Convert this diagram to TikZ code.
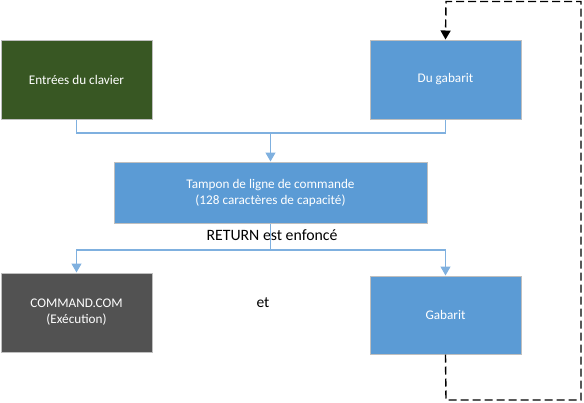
\documentclass[tikz,border=0pt]{standalone}
\usepackage{fontspec}
\setmainfont{Carlito}
\usetikzlibrary{arrows.meta}
\definecolor{dgreen}{HTML}{385723}
\definecolor{mblue}{HTML}{5B9BD5}
\definecolor{dgrey}{HTML}{525252}
\definecolor{bord}{HTML}{BFBFBF}
\definecolor{lblue}{HTML}{7FB0DF}
\begin{document}
\begin{tikzpicture}[x=1pt,y=-1pt,
  box/.style={draw=bord,line width=1pt,minimum width=151pt,minimum height=79pt,inner sep=0pt,text=white,font=\fontsize{13.2}{16}\selectfont,align=center},
  conn/.style={draw=lblue,line width=1.2pt},
  arr/.style={conn,-{Triangle[width=10pt,length=9pt]},shorten >=0pt},
  dashline/.style={draw=black,line width=1.4pt,dash pattern=on 8pt off 4pt}
]
\useasboundingbox (0,0) rectangle (584,402);
\node[box,fill=dgreen] (ent) at (76.5,79.5) {Entrées du clavier};
\node[box,fill=mblue] (dug) at (445.5,79.5) {Du gabarit};
\node[box,fill=mblue,minimum width=313pt,minimum height=61pt] (tam) at (270.5,192.5) {Tampon de ligne de commande\\(128 caractères de capacité)};
\node[box,fill=dgrey] (cmd) at (76.5,312.5) {COMMAND.COM\\(Exécution)};
\node[box,fill=mblue,minimum height=78pt] (gab) at (445.5,315) {Gabarit};
\node[font=\fontsize{15.8}{18}\selectfont] (ret) at (272,235.5) {RETURN est enfoncé};
\node[font=\fontsize{15.5}{18}\selectfont] (et) at (263,303) {et};
\coordinate (j1) at (270.5,133);
\coordinate (j2) at (270.5,250);
\coordinate (tl) at (446,1.5);
\coordinate (tr) at (581,1.5);
\coordinate (br) at (581,400);
\coordinate (bl) at (446,400);
\draw[conn] (ent.south) |- (j1);
\draw[conn] (dug.south) |- (j1);
\draw[arr] (j1) -- (tam.north);
\draw[conn] (tam.south) -- (j2);
\draw[arr] (j2) -| (cmd.north);
\draw[arr] (j2) -| (gab.north);
\draw[dashline,-{Triangle[width=10pt,length=9pt]}] (gab.south) -- (bl) -- (br) -- (tr) -- (tl) -- (dug.north);
\end{tikzpicture}
\end{document}
